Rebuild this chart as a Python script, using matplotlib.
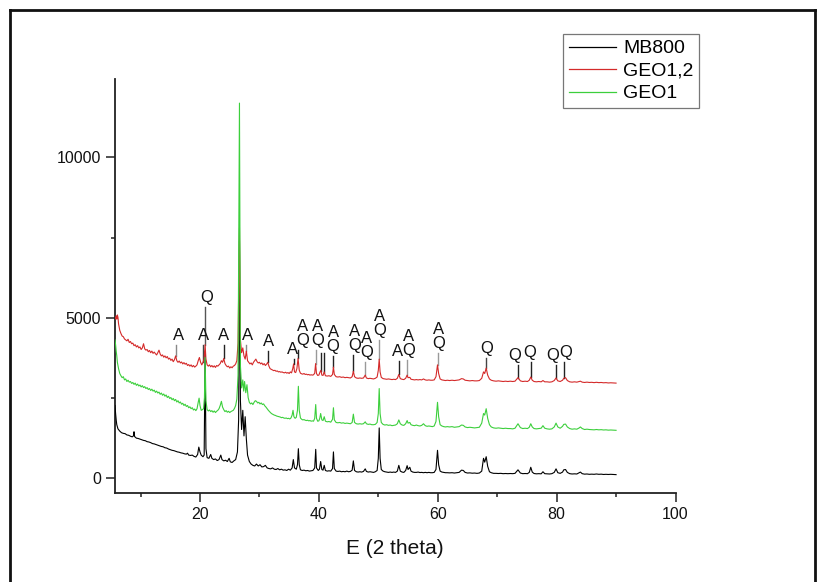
import matplotlib
matplotlib.use("Agg")
import matplotlib.pyplot as plt
import numpy as np
from matplotlib.lines import Line2D

plt.rcParams['font.family'] = ['Liberation Sans', 'DejaVu Sans']

# ---------------- data (2 theta, counts) ----------------
mb800 = [(5.7,2250),(5.8,2000),(5.9,1800),(6.0,1650),(6.2,1520),(6.5,1450),(6.8,1400),(7.1,1380),(7.4,1370),(7.7,1330),(8.0,1320),(8.3,1290),(8.6,1270),(8.8,1300),(8.9,1430),(9.0,1280),(9.3,1230),(9.6,1220),(9.9,1200),(10.2,1180),(10.5,1160),(10.8,1150),(11.1,1120),(11.4,1110),(11.7,1090),(12.0,1060),(12.3,1050),(12.6,1030),(12.9,1010),(13.2,990),(13.5,970),(13.8,960),(14.1,930),(14.4,920),(14.7,890),(15.0,870),(15.3,850),(15.6,840),(15.9,820),(16.2,800),(16.5,790),(16.8,770),(17.1,760),(17.4,740),(17.7,730),(17.9,760),(18.1,700),(18.4,690),(18.7,700),(19.0,660),(19.3,640),(19.6,720),(19.8,950),(20.0,800),(20.2,700),(20.5,650),(20.7,700),(20.86,3950),(21.0,900),(21.2,620),(21.5,600),(21.8,720),(22.0,600),(22.3,560),(22.6,580),(22.9,530),(23.2,560),(23.5,700),(23.7,560),(24.0,520),(24.3,540),(24.6,500),(24.9,600),(25.1,490),(25.4,470),(25.7,520),(26.0,560),(26.3,800),(26.5,1800),(26.64,7400),(26.8,2400),(27.0,1500),(27.2,2100),(27.4,1300),(27.6,1900),(27.8,1200),(28.0,700),(28.3,500),(28.6,420),(28.9,380),(29.2,360),(29.5,420),(29.8,360),(30.1,400),(30.4,330),(30.7,340),(31.0,380),(31.3,300),(31.6,280),(31.9,270),(32.2,300),(32.5,260),(32.8,250),(33.1,280),(33.4,240),(33.7,260),(34.0,230),(34.3,240),(34.6,220),(34.9,260),(35.2,230),(35.5,300),(35.7,560),(35.9,300),(36.2,260),(36.4,400),(36.55,900),(36.7,400),(36.9,240),(37.2,220),(37.5,230),(37.8,210),(38.1,220),(38.4,200),(38.7,210),(39.0,220),(39.3,300),(39.47,880),(39.6,300),(39.9,220),(40.1,260),(40.3,500),(40.5,250),(40.7,230),(40.9,380),(41.1,220),(41.4,200),(41.7,210),(42.0,200),(42.3,280),(42.45,800),(42.6,280),(42.9,200),(43.2,190),(43.5,200),(43.8,180),(44.1,190),(44.4,180),(44.7,200),(45.0,180),(45.3,190),(45.6,230),(45.8,520),(46.0,220),(46.3,180),(46.6,170),(46.9,180),(47.2,170),(47.5,190),(47.8,270),(48.0,190),(48.3,170),(48.6,180),(48.9,170),(49.2,160),(49.5,180),(49.8,220),(50.0,600),(50.15,1550),(50.3,600),(50.5,250),(50.8,200),(51.1,180),(51.4,170),(51.7,160),(52.0,170),(52.3,160),(52.6,170),(52.9,160),(53.2,200),(53.45,380),(53.7,200),(54.0,170),(54.3,160),(54.6,220),(54.85,370),(55.0,250),(55.3,320),(55.5,200),(55.8,170),(56.1,160),(56.4,160),(56.7,170),(57.0,155),(57.3,160),(57.6,150),(57.9,160),(58.2,150),(58.5,160),(58.8,150),(59.1,150),(59.4,160),(59.7,250),(59.96,850),(60.15,400),(60.4,200),(60.7,170),(61.0,160),(61.3,150),(61.6,150),(62.0,145),(62.4,150),(62.8,140),(63.2,150),(63.6,160),(64.0,230),(64.3,220),(64.6,160),(65.0,140),(65.4,145),(65.8,135),(66.2,140),(66.6,130),(67.0,140),(67.4,200),(67.7,600),(67.9,480),(68.15,650),(68.4,350),(68.7,180),(69.0,150),(69.4,130),(69.8,130),(70.2,125),(70.6,130),(71.0,120),(71.4,125),(71.8,120),(72.2,125),(72.6,120),(73.0,130),(73.5,240),(73.9,140),(74.3,120),(74.7,125),(75.1,120),(75.4,160),(75.65,320),(75.9,170),(76.2,125),(76.6,115),(77.0,120),(77.4,115),(77.7,180),(78.0,120),(78.4,115),(78.8,110),(79.2,120),(79.6,160),(79.9,270),(80.2,150),(80.6,130),(81.0,170),(81.2,240),(81.5,250),(81.8,160),(82.2,120),(82.6,110),(83.0,115),(83.4,110),(83.8,150),(84.0,170),(84.3,120),(84.7,105),(85.1,110),(85.5,100),(85.9,105),(86.3,100),(86.7,110),(87.1,100),(87.5,105),(87.9,95),(88.3,100),(88.7,95),(89.1,100),(89.5,95),(90.0,90)]

geo12 = [(5.7,5000),(5.8,4950),(5.9,5050),(6.0,4950),(6.1,5080),(6.2,5000),(6.3,4800),(6.5,4600),(6.7,4500),(6.9,4420),(7.1,4400),(7.3,4330),(7.5,4300),(7.7,4270),(7.9,4320),(8.1,4220),(8.3,4250),(8.5,4180),(8.7,4200),(8.9,4120),(9.1,4150),(9.3,4080),(9.5,4120),(9.7,4050),(9.9,4080),(10.1,4000),(10.3,4050),(10.5,4180),(10.7,4020),(10.9,3980),(11.1,4000),(11.3,3930),(11.5,3970),(11.7,3900),(11.9,3950),(12.1,3880),(12.3,3920),(12.5,3870),(12.7,3830),(12.9,3900),(13.1,3980),(13.3,3860),(13.5,3800),(13.7,3830),(13.9,3760),(14.1,3800),(14.3,3740),(14.5,3780),(14.7,3700),(14.9,3730),(15.1,3660),(15.3,3700),(15.5,3620),(15.7,3680),(15.9,3800),(16.1,3650),(16.3,3600),(16.5,3640),(16.7,3580),(16.9,3610),(17.1,3550),(17.3,3590),(17.5,3540),(17.7,3570),(17.9,3500),(18.1,3530),(18.3,3480),(18.5,3520),(18.7,3460),(18.9,3500),(19.1,3450),(19.3,3480),(19.5,3520),(19.7,3650),(19.9,3750),(20.1,3600),(20.3,3520),(20.5,3600),(20.7,3700),(20.86,4150),(21.0,3700),(21.2,3520),(21.4,3480),(21.6,3520),(21.8,3460),(22.0,3500),(22.2,3450),(22.4,3490),(22.6,3440),(22.8,3500),(23.0,3480),(23.2,3520),(23.4,3560),(23.6,3650),(23.8,3600),(24.0,3720),(24.2,3560),(24.4,3500),(24.6,3460),(24.8,3480),(25.0,3420),(25.2,3460),(25.4,3430),(25.6,3480),(25.8,3500),(26.0,3550),(26.2,3650),(26.4,4200),(26.64,7800),(26.8,4300),(27.0,3900),(27.2,4050),(27.4,3800),(27.6,3700),(27.8,3950),(28.0,3650),(28.2,3600),(28.4,3550),(28.6,3580),(28.8,3520),(29.0,3600),(29.2,3650),(29.4,3700),(29.6,3620),(29.8,3580),(30.0,3600),(30.2,3550),(30.4,3580),(30.6,3520),(30.8,3560),(31.0,3500),(31.2,3540),(31.4,3600),(31.6,3480),(31.8,3400),(32.0,3380),(32.2,3360),(32.4,3340),(32.6,3350),(32.8,3320),(33.0,3330),(33.2,3300),(33.4,3310),(33.6,3290),(33.8,3300),(34.0,3280),(34.2,3270),(34.4,3290),(34.6,3260),(34.8,3280),(35.0,3250),(35.2,3300),(35.4,3270),(35.6,3400),(35.75,3550),(35.9,3300),(36.1,3280),(36.3,3400),(36.5,3720),(36.7,3350),(36.9,3260),(37.1,3240),(37.3,3230),(37.5,3250),(37.7,3220),(37.9,3230),(38.1,3210),(38.3,3220),(38.5,3200),(38.7,3210),(38.9,3200),(39.1,3210),(39.3,3260),(39.45,3560),(39.6,3250),(39.8,3190),(40.0,3200),(40.2,3300),(40.35,3350),(40.5,3200),(40.7,3190),(40.9,3300),(41.1,3180),(41.4,3170),(41.7,3180),(42.0,3160),(42.3,3220),(42.45,3450),(42.6,3220),(42.9,3150),(43.2,3140),(43.5,3150),(43.8,3130),(44.1,3140),(44.4,3120),(44.7,3130),(45.0,3120),(45.3,3110),(45.6,3150),(45.8,3320),(46.0,3150),(46.3,3110),(46.6,3100),(46.9,3110),(47.2,3100),(47.5,3110),(47.8,3200),(48.0,3110),(48.3,3090),(48.6,3100),(48.9,3090),(49.2,3080),(49.5,3100),(49.8,3140),(50.0,3350),(50.15,3700),(50.3,3300),(50.5,3130),(50.8,3090),(51.1,3080),(51.4,3070),(51.7,3080),(52.0,3070),(52.3,3060),(52.6,3070),(52.9,3060),(53.2,3100),(53.45,3220),(53.7,3090),(54.0,3070),(54.3,3060),(54.6,3100),(54.85,3200),(55.0,3120),(55.3,3130),(55.5,3070),(55.8,3060),(56.1,3050),(56.4,3060),(56.7,3050),(57.0,3060),(57.3,3050),(57.6,3080),(57.9,3050),(58.2,3040),(58.5,3050),(58.8,3040),(59.1,3040),(59.4,3050),(59.7,3150),(59.96,3520),(60.15,3250),(60.4,3080),(60.7,3050),(61.0,3040),(61.3,3030),(61.6,3040),(62.0,3030),(62.4,3040),(62.8,3030),(63.2,3040),(63.6,3050),(64.0,3090),(64.3,3080),(64.6,3040),(65.0,3030),(65.4,3020),(65.8,3030),(66.2,3020),(66.6,3020),(67.0,3030),(67.4,3100),(67.7,3300),(67.9,3250),(68.15,3420),(68.4,3200),(68.7,3080),(69.0,3040),(69.4,3020),(69.8,3010),(70.2,3020),(70.6,3010),(71.0,3000),(71.4,3010),(71.8,3000),(72.2,3010),(72.6,3000),(73.0,3010),(73.5,3120),(73.9,3020),(74.3,3000),(74.7,3010),(75.1,3000),(75.4,3040),(75.65,3140),(75.9,3040),(76.2,3000),(76.6,2990),(77.0,3000),(77.4,2990),(77.7,3030),(78.0,2990),(78.4,2990),(78.8,2980),(79.2,2990),(79.6,3030),(79.9,3110),(80.2,3020),(80.6,3000),(81.0,3040),(81.2,3100),(81.5,3120),(81.8,3030),(82.2,2990),(82.6,2980),(83.0,2990),(83.4,2980),(83.8,3000),(84.0,3010),(84.3,2980),(84.7,2970),(85.1,2980),(85.5,2970),(85.9,2975),(86.3,2965),(86.7,2975),(87.1,2965),(87.5,2970),(87.9,2960),(88.3,2965),(88.7,2955),(89.1,2960),(89.5,2955),(90.0,2950)]

geo1 = [(5.7,4300),(5.8,4150),(5.9,3950),(6.0,3800),(6.1,3600),(6.3,3400),(6.5,3250),(6.7,3180),(6.9,3120),(7.1,3150),(7.3,3050),(7.5,3080),(7.7,3000),(7.9,3040),(8.1,2980),(8.3,3000),(8.5,2940),(8.7,2970),(8.9,2910),(9.1,2950),(9.3,2880),(9.5,2920),(9.7,2860),(9.9,2890),(10.1,2830),(10.3,2870),(10.5,2810),(10.7,2840),(10.9,2780),(11.1,2810),(11.3,2750),(11.5,2780),(11.7,2720),(11.9,2760),(12.1,2700),(12.3,2730),(12.5,2660),(12.7,2700),(12.9,2640),(13.1,2670),(13.3,2600),(13.5,2640),(13.7,2570),(13.9,2610),(14.1,2540),(14.3,2580),(14.5,2500),(14.7,2540),(14.9,2470),(15.1,2500),(15.3,2430),(15.5,2470),(15.7,2400),(15.9,2440),(16.1,2360),(16.3,2400),(16.5,2330),(16.7,2360),(16.9,2290),(17.1,2320),(17.3,2250),(17.5,2290),(17.7,2220),(17.9,2250),(18.1,2180),(18.3,2210),(18.5,2150),(18.7,2180),(18.9,2110),(19.1,2140),(19.3,2090),(19.5,2150),(19.7,2350),(19.85,2480),(20.0,2250),(20.2,2100),(20.4,2120),(20.6,2150),(20.75,2500),(20.86,3750),(21.0,2400),(21.2,2120),(21.4,2080),(21.6,2110),(21.8,2060),(22.0,2090),(22.2,2040),(22.4,2080),(22.6,2030),(22.8,2070),(23.0,2100),(23.2,2150),(23.4,2250),(23.6,2380),(23.8,2200),(24.0,2120),(24.2,2060),(24.4,2090),(24.6,2040),(24.8,2070),(25.0,2030),(25.2,2060),(25.4,2080),(25.6,2100),(25.8,2160),(26.0,2250),(26.2,2450),(26.4,3200),(26.64,11700),(26.8,3500),(27.0,2800),(27.2,3050),(27.35,2700),(27.5,3000),(27.7,2650),(27.9,2900),(28.1,2500),(28.3,2350),(28.5,2300),(28.7,2330),(28.9,2280),(29.1,2350),(29.3,2400),(29.5,2380),(29.7,2330),(29.9,2350),(30.1,2300),(30.3,2330),(30.5,2280),(30.7,2300),(30.9,2240),(31.1,2200),(31.3,2150),(31.5,2100),(31.7,2060),(31.9,2020),(32.1,1990),(32.3,1970),(32.5,1950),(32.7,1940),(32.9,1920),(33.1,1910),(33.3,1900),(33.5,1890),(33.7,1870),(33.9,1880),(34.1,1860),(34.3,1850),(34.5,1860),(34.7,1840),(34.9,1850),(35.1,1830),(35.3,1860),(35.5,1950),(35.65,2100),(35.8,1900),(36.0,1850),(36.2,1880),(36.4,2100),(36.55,2850),(36.7,2100),(36.9,1860),(37.1,1820),(37.3,1800),(37.5,1810),(37.7,1790),(37.9,1780),(38.1,1790),(38.3,1770),(38.5,1780),(38.7,1760),(38.9,1770),(39.1,1760),(39.3,1850),(39.47,2280),(39.6,1850),(39.8,1760),(40.0,1770),(40.15,1850),(40.3,2000),(40.5,1800),(40.7,1780),(40.9,1900),(41.1,1760),(41.4,1740),(41.7,1750),(42.0,1730),(42.3,1820),(42.45,2180),(42.6,1800),(42.9,1720),(43.2,1710),(43.5,1720),(43.8,1700),(44.1,1710),(44.4,1690),(44.7,1700),(45.0,1690),(45.3,1680),(45.6,1720),(45.8,1980),(46.0,1720),(46.3,1680),(46.6,1670),(46.9,1680),(47.2,1670),(47.5,1680),(47.8,1740),(48.0,1680),(48.3,1660),(48.6,1670),(48.9,1650),(49.2,1650),(49.5,1660),(49.8,1720),(50.0,2000),(50.15,2780),(50.3,2000),(50.5,1720),(50.8,1660),(51.1,1640),(51.4,1650),(51.7,1630),(52.0,1640),(52.3,1620),(52.6,1630),(52.9,1640),(53.2,1680),(53.45,1800),(53.7,1680),(54.0,1640),(54.3,1630),(54.6,1680),(54.85,1780),(55.0,1700),(55.3,1720),(55.5,1650),(55.8,1630),(56.1,1620),(56.4,1640),(56.7,1620),(57.0,1610),(57.3,1630),(57.6,1680),(57.9,1620),(58.2,1600),(58.5,1610),(58.8,1600),(59.1,1590),(59.4,1610),(59.7,1750),(59.96,2350),(60.15,1900),(60.4,1650),(60.7,1610),(61.0,1590),(61.3,1580),(61.6,1590),(62.0,1580),(62.4,1590),(62.8,1570),(63.2,1580),(63.6,1590),(64.0,1640),(64.3,1630),(64.6,1580),(65.0,1560),(65.4,1570),(65.8,1560),(66.2,1550),(66.6,1560),(67.0,1570),(67.4,1700),(67.7,2000),(67.9,1950),(68.15,2150),(68.4,1850),(68.7,1650),(69.0,1580),(69.4,1550),(69.8,1540),(70.2,1550),(70.6,1540),(71.0,1530),(71.4,1540),(71.8,1530),(72.2,1530),(72.6,1520),(73.0,1540),(73.5,1680),(73.9,1560),(74.3,1530),(74.7,1540),(75.1,1530),(75.4,1570),(75.65,1680),(75.9,1580),(76.2,1530),(76.6,1520),(77.0,1530),(77.4,1540),(77.7,1620),(78.0,1540),(78.4,1520),(78.8,1510),(79.2,1520),(79.6,1580),(79.9,1700),(80.2,1580),(80.6,1540),(81.0,1600),(81.2,1660),(81.5,1670),(81.8,1580),(82.2,1530),(82.6,1510),(83.0,1520),(83.4,1510),(83.8,1550),(84.0,1580),(84.3,1530),(84.7,1500),(85.1,1510),(85.5,1500),(85.9,1495),(86.3,1490),(86.7,1500),(87.1,1490),(87.5,1495),(87.9,1485),(88.3,1490),(88.7,1480),(89.1,1485),(89.5,1480),(90.0,1475)]

series_names = ["MB800", "GEO1,2", "GEO1"]
series_colors = ["#000000", "#d42a2a", "#3ccf3c"]

# phase annotations: line position, label, label x, label-bottom level, line colour
ann_pos   = [15.9, 20.5, 20.86, 24.0, 27.8, 31.4, 35.75, 36.5, 39.45, 42.45, 45.8, 47.8, 50.15, 53.45, 54.85, 59.96, 68.15, 73.5, 75.65, 79.9, 81.3]
ann_text  = ["A", "A", "Q", "A", "A", "A", "A", "A\nQ", "A\nQ", "A\nQ", "A\nQ", "A\nQ", "A\nQ", "A", "A\nQ", "A\nQ", "Q", "Q", "Q", "Q", "Q"]
ann_tx    = [16.4, 20.6, 21.2, 24.0, 28.0, 31.5, 35.5, 37.2, 39.8, 42.4, 46.0, 48.0, 50.2, 53.3, 55.1, 60.2, 68.2, 73.0, 75.5, 79.4, 81.5]
ann_top   = [4212, 4212, 5381, 4212, 4212, 4016, 3775, 4056, 4056, 3850, 3900, 3672, 4369, 3694, 3725, 3953, 3797, 3588, 3672, 3588, 3662]
ann_color = ["#888888", "#444444", "#555555", "#222222", "#888888", "#222222", "#222222", "#222222", "#999999", "#222222", "#222222", "#999999", "#999999", "#222222", "#999999", "#999999", "#444444", "#222222", "#222222", "#222222", "#222222"]
extra_lines = [40.3, 40.9]
extra_top = 3900

# ---------------- figure ----------------
W, H = 820, 582
fig = plt.figure(figsize=(W / 100, H / 100), dpi=100)
ax = fig.add_axes([115 / W, 1 - 493 / H, (675.5 - 115) / W, (493 - 79) / H])

for data, name, col in zip([mb800, geo12, geo1], series_names, series_colors):
    arr = np.array(data)
    ax.plot(arr[:, 0], arr[:, 1], color=col, lw=0.8, label=name, zorder=3)

red = np.array(geo12)
for xp, t, tx, top, c in zip(ann_pos, ann_text, ann_tx, ann_top, ann_color):
    base = np.interp(xp, red[:, 0], red[:, 1])
    ax.plot([xp, xp], [base, top - 60], color=c, lw=1.0, zorder=2)
    ax.text(tx, top, t, ha='center', va='bottom', fontsize=12,
            linespacing=0.92, color='#111111', zorder=4)
for xp in extra_lines:
    base = np.interp(xp, red[:, 0], red[:, 1])
    ax.plot([xp, xp], [base, extra_top], color='#222222', lw=1.0, zorder=2)

ax.set_xlim(5.7, 100)
ax.set_ylim(-484, 12453)
ax.set_xticks([20, 40, 60, 80, 100])
ax.set_xticks([10, 30, 50, 70, 90], minor=True)
ax.set_yticks([0, 5000, 10000])
ax.set_yticks([2500, 7500], minor=True)
for s in ['top', 'right']:
    ax.spines[s].set_visible(False)
for s in ['left', 'bottom']:
    ax.spines[s].set_linewidth(1.3)
    ax.spines[s].set_color('#222222')
ax.tick_params(which='major', direction='out', length=6.5, width=1.1, labelsize=11.5,
               pad=3.5, colors='#222222', labelcolor='#111111')
ax.tick_params(which='minor', direction='out', length=3.2, width=1.1, colors='#222222')
ax.set_xlabel("E (2 theta)", fontsize=15, labelpad=12, color='#111111')

handles = [Line2D([0], [0], color=c, lw=0.9) for c in series_colors]
leg = ax.legend(handles, series_names, loc='upper left',
                bbox_to_anchor=(563 / W, 1 - 34 / H), bbox_transform=fig.transFigure,
                borderaxespad=0, fontsize=14, frameon=True, fancybox=False,
                handlelength=2.45, handletextpad=0.35, labelspacing=0.25,
                borderpad=0.3)
leg.get_frame().set_edgecolor('#555555')
leg.get_frame().set_linewidth(0.9)

# outer frame
fig.add_artist(Line2D([10 / W, 10 / W], [0, 1 - 10 / H], transform=fig.transFigure, color='#111111', lw=2.0))
fig.add_artist(Line2D([10 / W, 815 / W], [1 - 10 / H, 1 - 10 / H], transform=fig.transFigure, color='#111111', lw=2.0))
fig.add_artist(Line2D([815 / W, 815 / W], [0, 1 - 10 / H], transform=fig.transFigure, color='#111111', lw=2.0))

fig.savefig("out.png", dpi=100)
